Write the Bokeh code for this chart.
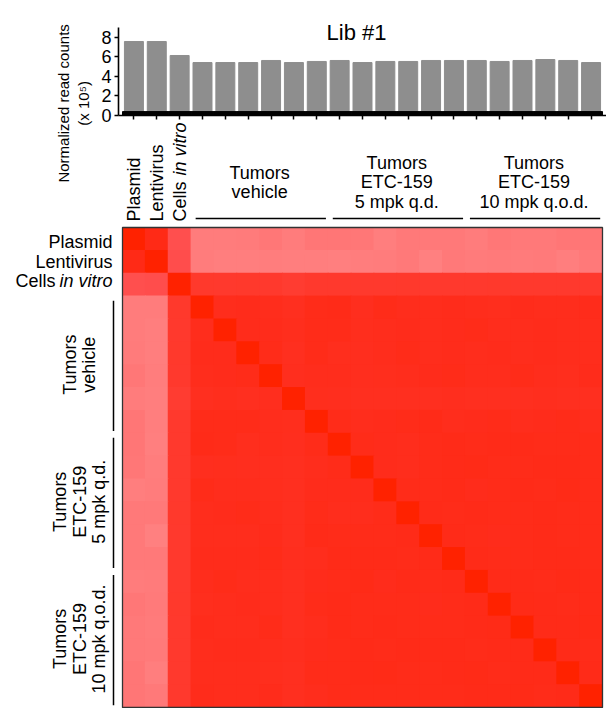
import numpy as np
from math import pi

from bokeh.plotting import figure
from bokeh.models import (Range1d, LinearAxis, FixedTicker, LinearColorMapper,
                          ColumnDataSource)
from bokeh.core.properties import value
from bokeh.embed import file_html
from bokeh.resources import INLINE

# ---------------------------------------------------------------- data
sample_labels = ["Plasmid", "Lentivirus", "Cells in vitro",
                 "Veh 1", "Veh 2", "Veh 3", "Veh 4", "Veh 5", "Veh 6",
                 "5q 1", "5q 2", "5q 3", "5q 4", "5q 5", "5q 6",
                 "10qo 1", "10qo 2", "10qo 3", "10qo 4", "10qo 5", "10qo 6"]

# normalized read counts (x 10^5)
read_counts = [7.56, 7.56, 6.13,
               5.41, 5.41, 5.41, 5.62, 5.41, 5.52,
               5.62, 5.41, 5.52, 5.52, 5.62, 5.62,
               5.62, 5.52, 5.62, 5.72, 5.62, 5.41]

group_names = ["Tumors\nvehicle",
               "Tumors\nETC-159\n5 mpk q.d.",
               "Tumors\nETC-159\n10 mpk q.o.d."]
group_first = [3, 9, 15]
group_last = [8, 14, 20]

yticks = [0, 2, 4, 6, 8]

# pairwise correlation, upper triangle (row i holds pairs with j > i)
upper = [
    # Plasmid
    [0.965, 0.872,
     0.765, 0.765, 0.766, 0.776, 0.764, 0.778, 0.778, 0.777, 0.760,
     0.770, 0.771, 0.770, 0.765, 0.776, 0.771, 0.772, 0.779, 0.778],
    # Lentivirus
    [0.876,
     0.765, 0.760, 0.761, 0.762, 0.760, 0.761, 0.756, 0.763, 0.764,
     0.772, 0.755, 0.771, 0.767, 0.768, 0.767, 0.768, 0.758, 0.772],
    # Cells in vitro
    [0.922, 0.921, 0.922, 0.921, 0.915, 0.920, 0.921, 0.920, 0.921,
     0.922, 0.921, 0.920, 0.921, 0.922, 0.921, 0.920, 0.921, 0.920],
    # tumors
    [0.957, 0.958, 0.957, 0.950, 0.960, 0.961, 0.952, 0.960, 0.957,
     0.956, 0.958, 0.957, 0.955, 0.958, 0.956, 0.957, 0.958],
    [0.958, 0.958, 0.955, 0.959, 0.960, 0.954, 0.956, 0.958, 0.957,
     0.958, 0.960, 0.957, 0.956, 0.958, 0.957, 0.956],
    [0.960, 0.951, 0.960, 0.955, 0.952, 0.956, 0.959, 0.956, 0.958,
     0.957, 0.958, 0.957, 0.958, 0.956, 0.957],
    [0.953, 0.957, 0.956, 0.953, 0.955, 0.957, 0.958, 0.960, 0.956,
     0.957, 0.959, 0.957, 0.955, 0.958],
    [0.955, 0.952, 0.950, 0.951, 0.950, 0.951, 0.952, 0.951, 0.950,
     0.951, 0.952, 0.950, 0.951],
    [0.959, 0.957, 0.958, 0.960, 0.961, 0.957, 0.958, 0.960, 0.957,
     0.958, 0.959, 0.957],
    [0.960, 0.958, 0.957, 0.959, 0.962, 0.960, 0.961, 0.962, 0.960,
     0.959, 0.960],
    [0.958, 0.957, 0.960, 0.961, 0.963, 0.959, 0.960, 0.962, 0.961, 0.960],
    [0.959, 0.960, 0.962, 0.958, 0.959, 0.961, 0.960, 0.963, 0.960],
    [0.961, 0.960, 0.961, 0.959, 0.960, 0.961, 0.960, 0.959],
    [0.962, 0.960, 0.958, 0.960, 0.962, 0.960, 0.959],
    [0.961, 0.960, 0.959, 0.961, 0.962, 0.960],
    [0.962, 0.961, 0.960, 0.963, 0.961],
    [0.963, 0.961, 0.960, 0.962],
    [0.962, 0.961, 0.963],
    [0.962, 0.960],
    [0.961],
]

# ------------------------------------------------------- full matrix
n = len(sample_labels)
corr = np.eye(n)
for i, row in enumerate(upper):
    for k, v in enumerate(row):
        j = i + 1 + k
        corr[i, j] = v
        corr[j, i] = v

xs, ys, vs = [], [], []
for i in range(n):
    for j in range(n):
        xs.append(j)
        ys.append(i)
        vs.append(corr[i, j])
heat = ColumnDataSource(dict(x=xs, y=ys, v=vs))

# white -> red ramp
stops_v = [0.50, 0.75, 0.87, 0.92, 0.96, 1.00]
stops_rgb = [(255, 255, 255), (255, 130, 130), (255, 80, 80),
             (255, 58, 46), (255, 44, 26), (255, 34, 0)]
grid = np.linspace(0.5, 1.0, 256)
palette = []
for g in grid:
    r = int(round(np.interp(g, stops_v, [c[0] for c in stops_rgb])))
    gg = int(round(np.interp(g, stops_v, [c[1] for c in stops_rgb])))
    b = int(round(np.interp(g, stops_v, [c[2] for c in stops_rgb])))
    palette.append("#%02x%02x%02x" % (r, gg, b))
mapper = LinearColorMapper(palette=palette, low=0.5, high=1.0)

# ------------------------------------------------------------ figure
W, H = 606, 708
cell = 480 / n                      # pixel size of one heatmap cell
x0 = -0.5 - 122 / cell
y_top = -0.5 - 227 / cell
count_px = 9.79                     # pixels per 10^5 reads
p = figure(width=W, height=H,
           x_range=Range1d(x0, x0 + W / cell),
           y_range=Range1d(y_top + H / cell, y_top),
           x_axis_type=None, y_axis_type=None,
           output_backend="svg", toolbar_location=None,
           min_border=0, outline_line_color=None)
p.extra_y_ranges = {"counts": Range1d(-(H - 115) / count_px, 115 / count_px)}

FONT = value("Liberation Sans")
idx = list(range(n))

# heatmap (cells slightly oversized so neighbours overlap without seams)
p.rect(x="x", y="y", width=1.04, height=1.04, source=heat,
       fill_color={"field": "v", "transform": mapper}, line_color=None)
p.rect(x=[(n - 1) / 2], y=[(n - 1) / 2], width=n, height=n,
       fill_color=None, line_color="#333333", line_width=1.3)

# read-count bars
p.vbar(x=idx, top=read_counts, bottom=0, width=0.83,
       color="#8e8e8e", y_range_name="counts")
p.vbar(x=idx, top=0.4, bottom=0, width=1.0,
       color="black", y_range_name="counts")

ax_left = x0 + 118 / cell
yaxis = LinearAxis(y_range_name="counts", fixed_location=ax_left,
                   bounds=(0, 9), ticker=FixedTicker(ticks=yticks))
yaxis.axis_line_width = 1.6
yaxis.major_tick_line_width = 1.5
yaxis.major_tick_out = 4
yaxis.major_tick_in = 0
yaxis.minor_tick_out = 0
yaxis.minor_tick_in = 0
yaxis.major_label_standoff = 3
yaxis.major_label_text_font = "Liberation Sans"
yaxis.major_label_text_font_size = "18px"
yaxis.major_label_text_color = "black"
p.add_layout(yaxis, "left")

xaxis = LinearAxis(y_range_name="counts", fixed_location=0,
                   bounds=(ax_left, x0 + W / cell),
                   ticker=FixedTicker(ticks=idx))
xaxis.axis_line_width = 1.6
xaxis.major_tick_line_width = 1.5
xaxis.major_tick_out = 4
xaxis.major_tick_in = 0
xaxis.minor_tick_out = 0
xaxis.minor_tick_in = 0
xaxis.major_label_text_color = None
p.add_layout(xaxis, "below")

# title and count-axis label
p.text(x=[9.74], y=[-9.03], text=["Lib #1"], text_font=FONT,
       text_font_size="22px", text_align="center",
       text_baseline="alphabetic", text_color="black")
p.text(x=[-2.64], y=[-5.93], text=["Normalized read counts\n(x 10\u2075)"],
       angle=pi / 2, text_font=FONT, text_font_size="15px",
       text_align="center", text_baseline="middle",
       text_line_height=1.15, text_color="black")

# column labels (rotated)
lab_y = -0.7625
p.text(x=[0, 1, 2], y=[lab_y] * 3, text=["Plasmid", "Lentivirus", "Cells"],
       angle=pi / 2, text_font=FONT, text_font_size="18px",
       text_align="left", text_baseline="middle", text_color="black")
p.text(x=[2], y=[lab_y - 46 / cell], text=["in vitro"], angle=pi / 2,
       text_font=FONT, text_font_size="18px", text_font_style="italic",
       text_align="left", text_baseline="middle", text_color="black")

# row labels
row_x = -0.5 - 10 / cell
p.text(x=[row_x, row_x], y=[0.13, 0.99], text=["Plasmid", "Lentivirus"],
       text_font=FONT, text_font_size="18px", text_align="right",
       text_baseline="middle", text_color="black")
p.text(x=[row_x], y=[1.84], text=["in vitro"], text_font=FONT,
       text_font_size="18px", text_font_style="italic", text_align="right",
       text_baseline="middle", text_color="black")
p.text(x=[row_x - 57 / cell], y=[1.84], text=["Cells"], text_font=FONT,
       text_font_size="18px", text_align="right",
       text_baseline="middle", text_color="black")

# group labels and brackets
centers = [(a + b) / 2 for a, b in zip(group_first, group_last)]
p.text(x=centers, y=[-2.47] * 3, text=group_names, text_font=FONT,
       text_font_size="18px", text_align="center", text_baseline="middle",
       text_line_height=0.97, text_color="black")
p.text(x=[-2.38] * 3, y=centers, text=group_names, angle=pi / 2,
       text_font=FONT, text_font_size="18px", text_align="center",
       text_baseline="middle", text_line_height=0.97, text_color="black")

br = -0.5 - 9 / cell
starts = [a - 0.5 + 0.2 for a in group_first]
ends = [b + 0.5 - 0.1 for b in group_last]
p.segment(x0=starts, y0=[br] * 3, x1=ends, y1=[br] * 3,
          line_color="black", line_width=1.5)
p.segment(x0=[br] * 3, y0=starts, x1=[br] * 3, y1=ends,
          line_color="black", line_width=1.5)

open("out.html", "w").write(file_html(p, INLINE))
